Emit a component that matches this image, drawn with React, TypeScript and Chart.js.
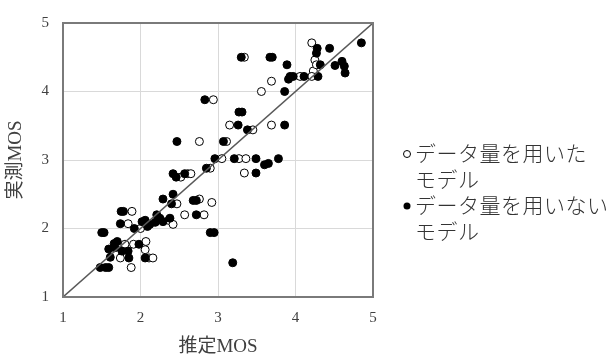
import React, { useEffect, useRef } from "react";
import { Chart, registerables } from "chart.js";

Chart.register(...registerables);

const xTicks = [1, 2, 3, 4, 5];
const yTicks = [1, 2, 3, 4, 5];
const xTitle = "推定MOS";
const yTitle = "実測MOS";
const legendOpen = ["データ量を用いた", "モデル"];
const legendFilled = ["データ量を用いない", "モデル"];

// データ量を用いたモデル (open circles)
const openX = [4.21, 4.25, 4.23, 4.21, 4.06, 3.69, 3.56, 2.94, 3.34, 3.15, 3.45, 3.69, 3.11, 2.76, 3.05, 3.27, 3.36, 3.34, 2.90, 2.52, 2.61, 2.65, 2.47, 2.76, 2.92, 2.57, 2.82, 2.36, 2.42, 1.89, 1.84, 2.00, 1.80, 1.91, 2.07, 2.06, 1.74, 2.11, 2.16, 1.88, 4.27];
const openY = [4.71, 4.46, 4.30, 4.22, 4.22, 4.15, 4.00, 3.88, 4.50, 3.51, 3.44, 3.51, 3.27, 3.27, 3.02, 3.02, 3.02, 2.81, 2.88, 2.75, 2.80, 2.80, 2.36, 2.43, 2.38, 2.20, 2.20, 2.12, 2.06, 2.25, 2.07, 2.00, 1.77, 1.77, 1.81, 1.69, 1.57, 1.57, 1.57, 1.43, 4.39];

// データ量を用いないモデル (filled circles)
const filledX = [4.85, 4.44, 4.28, 4.27, 3.89, 4.32, 4.51, 4.60, 4.63, 4.64, 3.93, 3.97, 4.11, 4.29, 3.91, 3.30, 3.67, 3.70, 3.86, 2.83, 3.27, 3.31, 3.26, 3.38, 3.86, 3.07, 2.47, 2.96, 3.21, 3.49, 3.78, 3.60, 3.65, 3.49, 2.85, 2.42, 2.46, 2.57, 2.29, 2.42, 2.40, 2.68, 2.72, 2.72, 2.90, 2.95, 3.19, 1.75, 1.78, 1.74, 1.92, 2.02, 2.06, 2.12, 2.19, 2.21, 2.25, 2.29, 2.38, 1.50, 1.53, 1.70, 1.59, 1.67, 1.76, 1.98, 1.85, 1.61, 2.06, 1.48, 1.55, 1.59, 1.84, 1.66, 2.09];
const filledY = [4.71, 4.63, 4.63, 4.56, 4.39, 4.39, 4.38, 4.44, 4.37, 4.27, 4.22, 4.22, 4.22, 4.22, 4.18, 4.50, 4.50, 4.50, 4.00, 3.88, 3.70, 3.70, 3.51, 3.44, 3.51, 3.27, 3.27, 3.02, 3.02, 3.02, 3.02, 2.93, 2.95, 2.81, 2.88, 2.80, 2.75, 2.80, 2.43, 2.50, 2.36, 2.41, 2.41, 2.20, 1.94, 1.94, 1.50, 2.25, 2.25, 2.07, 2.00, 2.10, 2.12, 2.06, 2.09, 2.20, 2.15, 2.10, 2.15, 1.94, 1.94, 1.81, 1.70, 1.72, 1.67, 1.77, 1.57, 1.58, 1.57, 1.43, 1.43, 1.43, 1.67, 1.78, 2.03];

const diagX = [1, 5];
const diagY = [1, 5];

const serif = "'Liberation Serif', 'Noto Sans CJK JP', serif";

export default function App() {
  const ref = useRef<HTMLCanvasElement | null>(null);

  useEffect(() => {
    if (!ref.current) return;

    const framePlugin = {
      id: "frame",
      afterDatasetsDraw(chart: any) {
        const { ctx, chartArea: a } = chart;
        ctx.save();
        ctx.strokeStyle = "#7a7a7a";
        ctx.lineWidth = 2;
        ctx.strokeRect(a.left, a.top, a.right - a.left, a.bottom - a.top);
        ctx.restore();
      },
      afterDraw(chart: any) {
        const { ctx } = chart;
        ctx.save();
        ctx.font = "300 21px 'Noto Sans CJK JP', sans-serif";
        try {
          (ctx as any).letterSpacing = "0.5px";
        } catch (e) {}
        ctx.textBaseline = "middle";
        ctx.textAlign = "left";
        const rows = [
          { lines: legendOpen, filled: false, y: 153 },
          { lines: legendFilled, filled: true, y: 205 },
        ];
        rows.forEach((r) => {
          ctx.beginPath();
          ctx.arc(407, r.y + 1, 3.5, 0, Math.PI * 2);
          if (r.filled) {
            ctx.fillStyle = "#000";
            ctx.fill();
          } else {
            ctx.strokeStyle = "#000";
            ctx.lineWidth = 1;
            ctx.stroke();
          }
          ctx.fillStyle = "#333333";
          r.lines.forEach((t, i) => {
            ctx.fillText(t, 415, r.y + i * 26);
          });
        });
        ctx.restore();
      },
    };

    const chart = new Chart(ref.current, {
      type: "scatter",
      data: {
        datasets: [
          {
            type: "line",
            label: "diag",
            data: diagX.map((x, i) => ({ x, y: diagY[i] })),
            borderColor: "#595959",
            borderWidth: 1.5,
            pointRadius: 0,
            order: 0,
          } as any,
          {
            label: legendOpen.join(""),
            data: openX.map((x, i) => ({ x, y: openY[i] })),
            backgroundColor: "#ffffff",
            borderColor: "#000000",
            borderWidth: 1,
            pointRadius: 4,
            order: 2,
          },
          {
            label: legendFilled.join(""),
            data: filledX.map((x, i) => ({ x, y: filledY[i] })),
            backgroundColor: "#000000",
            borderColor: "#000000",
            borderWidth: 1,
            pointRadius: 4,
            order: 1,
          },
        ],
      },
      options: {
        responsive: false,
        animation: false,
        layout: { padding: { left: 0, right: 238, top: 17, bottom: 0 } },
        plugins: { legend: { display: false }, tooltip: { enabled: false } },
        scales: {
          x: {
            type: "linear",
            min: 1,
            max: 5,
            afterFit(s: any) {
              s.height = 61;
            },
            afterBuildTicks(s: any) {
              s.ticks = xTicks.map((v) => ({ value: v }));
            },
            grid: { color: "#d9d9d9", lineWidth: 1, drawTicks: false },
            border: { display: false },
            ticks: { font: { family: serif, size: 15 }, color: "#404040", padding: 12, maxRotation: 0 },
            title: {
              display: true,
              text: xTitle,
              font: { family: serif, size: 19 },
              color: "#404040",
              padding: { top: 0, bottom: 0 },
            },
          },
          y: {
            type: "linear",
            min: 1,
            max: 5,
            afterFit(s: any) {
              s.width = 63;
            },
            afterBuildTicks(s: any) {
              s.ticks = yTicks.map((v) => ({ value: v }));
            },
            grid: { color: "#d9d9d9", lineWidth: 1, drawTicks: false },
            border: { display: false },
            ticks: { font: { family: serif, size: 15 }, color: "#404040", padding: 14 },
            title: {
              display: true,
              text: yTitle,
              font: { family: serif, size: 19 },
              color: "#404040",
              padding: { top: 5, bottom: 0 },
            },
          },
        },
      },
      plugins: [framePlugin],
    });

    return () => chart.destroy();
  }, []);

  return (
    <div style={{ position: "absolute", left: 0, top: 0, width: 611, height: 358, background: "#fff" }}>
      <canvas ref={ref} width={611} height={358} style={{ width: 611, height: 358, display: "block" }} />
    </div>
  );
}
